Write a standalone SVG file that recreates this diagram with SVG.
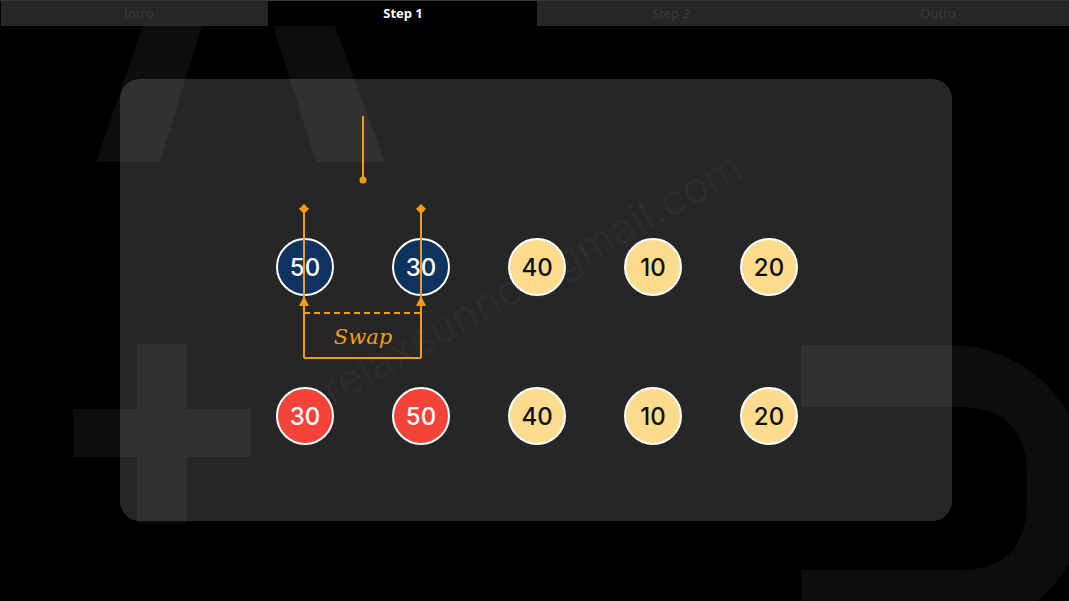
<svg xmlns="http://www.w3.org/2000/svg" width="1069" height="601" viewBox="0 0 1069 601">
<defs>
<style>
.tab{fill:#262626}
.tabt{font-family:"Open Sans","Noto Sans",sans-serif;font-size:13px;text-anchor:middle;fill:#3d3d3d}
.tabt.on{fill:#ffffff;font-weight:700}
.deco{fill:#ffffff;fill-opacity:0.05}
.wm{font-family:Inter,"Noto Sans",sans-serif;font-size:43px;fill:#ffffff}
.node circle{stroke:#ffffff;stroke-width:2}
.node text{font-family:Inter,"Noto Sans",sans-serif;font-size:24px;font-weight:500;text-anchor:middle;dominant-baseline:central}
.navy circle{fill:#0f335f}
.navy text{fill:#ffffff}
.red circle{fill:#f4443a}
.red text{fill:#ffffff}
.yel circle{fill:#fddc90}
.yel text{fill:#111111}
.ol{stroke:#f39c1a;stroke-width:2;fill:none}
</style>
<marker id="arr" viewBox="0 0 10 10" refX="10" refY="5" markerWidth="10" markerHeight="10" markerUnits="userSpaceOnUse" orient="auto">
<path d="M0,0 L10,5 L0,10 Z" fill="#f39c1a"/>
</marker>
<marker id="dia" viewBox="0 0 10 10" refX="5" refY="5" markerWidth="10" markerHeight="10" markerUnits="userSpaceOnUse" orient="auto">
<path d="M0,5 L5,0 L10,5 L5,10 Z" fill="#f39c1a"/>
</marker>
<marker id="dot" viewBox="0 0 8 8" refX="4" refY="4" markerWidth="8" markerHeight="8" markerUnits="userSpaceOnUse">
<circle cx="4" cy="4" r="3.5" fill="#f39c1a"/>
</marker>
</defs>
<rect x="0" y="0" width="1069" height="601" fill="#000000"/>
<g id="tabs">
<rect x="0" y="0" width="1069" height="1" fill="#353535"/>
<rect class="tab" x="1" y="1" width="267" height="25"/>
<rect x="269" y="1" width="267" height="25" fill="#000000"/>
<rect class="tab" x="537" y="1" width="532" height="25"/>
<text class="tabt" x="139" y="18">Intro</text>
<text class="tabt" x="403" y="18" style="fill:#ffffff;font-weight:700">Step 1</text>
<text class="tabt" x="671" y="18">Step 2</text>
<text class="tabt" x="938" y="18">Outro</text>
</g>
<g id="panel">
<rect x="120" y="79" width="832" height="442" rx="20" fill="#262626"/>
</g>
<g id="decor">
<polygon class="deco" points="143,26 202,26 160,162 96,162"/>
<polygon class="deco" points="273,26 335,26 385,162 316,162"/>
<rect class="deco" x="137" y="344" width="50" height="179"/>
<rect class="deco" x="73" y="409" width="64" height="48"/>
<rect class="deco" x="187" y="409" width="64" height="48"/>
<path class="deco" d="M801,345 H950 A140,143.5 0 0 1 950,632 H801 V570 H960 Q1027,570 1027,500 V477 Q1027,407 960,407 H801 Z"/>
</g>
<g id="watermark">
<text class="wm" fill-opacity="0.03" transform="translate(332,406) rotate(-29)">relaxsunnc@gmail.com</text>
<text class="wm" fill-opacity="0.018" transform="translate(305,483) rotate(-29)">relaxsunnc@gmail.com</text>
</g>
<g id="n50a" class="node navy"><circle cx="305" cy="267" r="28"/><text x="305" y="267">50</text></g>
<g id="n30a" class="node navy"><circle cx="421" cy="267" r="28"/><text x="421" y="267">30</text></g>
<g id="n40a" class="node yel"><circle cx="537" cy="267" r="28"/><text x="537" y="267">40</text></g>
<g id="n10a" class="node yel"><circle cx="653" cy="267" r="28"/><text x="653" y="267">10</text></g>
<g id="n20a" class="node yel"><circle cx="769" cy="267" r="28"/><text x="769" y="267">20</text></g>
<g id="n30b" class="node red"><circle cx="305" cy="416" r="28"/><text x="305" y="416">30</text></g>
<g id="n50b" class="node red"><circle cx="421" cy="416" r="28"/><text x="421" y="416">50</text></g>
<g id="n40b" class="node yel"><circle cx="537" cy="416" r="28"/><text x="537" y="416">40</text></g>
<g id="n10b" class="node yel"><circle cx="653" cy="416" r="28"/><text x="653" y="416">10</text></g>
<g id="n20b" class="node yel"><circle cx="769" cy="416" r="28"/><text x="769" y="416">20</text></g>
<g id="connectors">
<path class="ol" d="M363,116 V180" marker-end="url(#dot)"/>
<path class="ol" d="M304,358 V296" marker-end="url(#arr)"/>
<path class="ol" d="M304,296 V209" marker-end="url(#dia)"/>
<path class="ol" d="M421,358 V296" marker-end="url(#arr)"/>
<path class="ol" d="M421,296 V209" marker-end="url(#dia)"/>
<path class="ol" d="M304,358 H421"/>
<path class="ol" d="M304,313 H421" stroke-dasharray="6,4"/>
<text x="363" y="344" font-family="'DejaVu Serif','Liberation Serif',serif" font-style="italic" font-size="21" fill="#f39c1a" text-anchor="middle">Swap</text>
</g>
</svg>
